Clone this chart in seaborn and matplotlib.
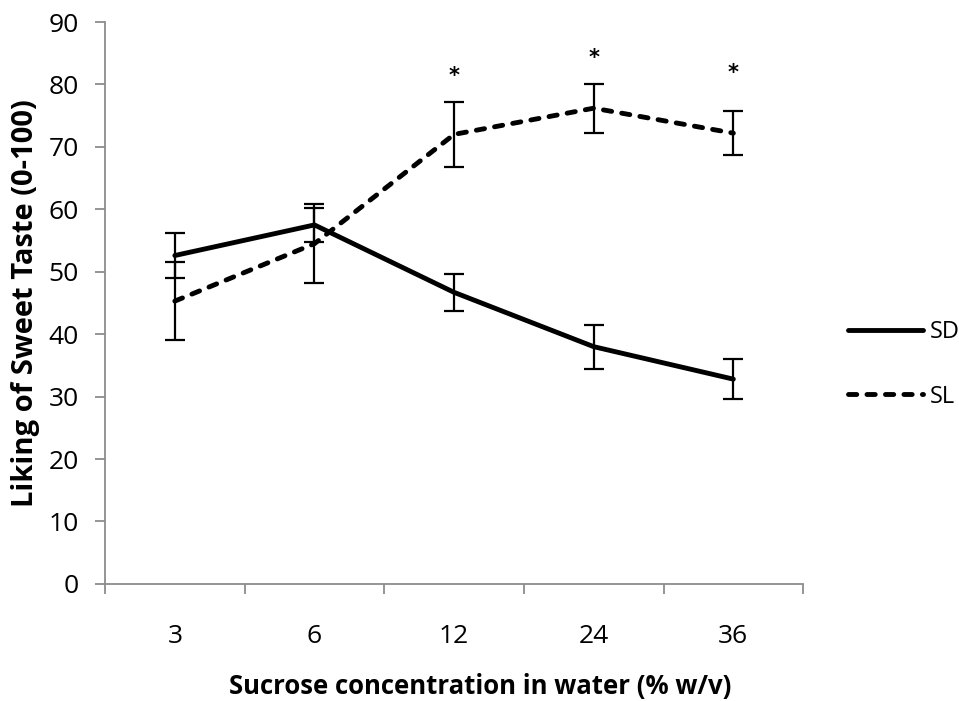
import matplotlib
matplotlib.use("Agg")
import matplotlib.pyplot as plt
import seaborn as sns
import pandas as pd
import numpy as np
from matplotlib.lines import Line2D

categories = ["3", "6", "12", "24", "36"]
sd_mean = [52.6, 57.5, 46.7, 38.0, 32.8]
sd_err = [3.6, 2.7, 3.0, 3.5, 3.2]
sl_mean = [45.3, 54.5, 72.0, 76.2, 72.2]
sl_err = [6.2, 6.3, 5.2, 3.9, 3.5]
star_y = [81.3, 84.3, 81.8]
star_idx = [2, 3, 4]

sns.set_style("white")
plt.rcParams["font.family"] = ["Open Sans", "DejaVu Sans"]
plt.rcParams["text.color"] = "black"
plt.rcParams["axes.labelcolor"] = "black"
plt.rcParams["xtick.labelcolor"] = "black"
plt.rcParams["ytick.labelcolor"] = "black"

pos = list(range(len(categories)))
df = pd.DataFrame({
    "pos": pos * 2,
    "value": sd_mean + sl_mean,
    "group": ["SD"] * len(pos) + ["SL"] * len(pos),
})

LW = 3.5
DASH = (1.7, 2.1)

fig = plt.figure(figsize=(9.59, 7.01), dpi=100)
ax = fig.add_axes([0.1095, 0.167, 0.728, 0.8016])

sns.lineplot(data=df, x="pos", y="value", hue="group", style="group",
             palette={"SD": "black", "SL": "black"},
             dashes={"SD": "", "SL": DASH}, linewidth=LW, ax=ax,
             legend=False)
for line in ax.lines:
    line.set_dash_capstyle("round")
    line.set_solid_capstyle("round")

ax.errorbar(pos, sd_mean, yerr=sd_err, fmt="none", ecolor="black",
            elinewidth=1.6, capsize=7, capthick=1.6)
ax.errorbar(pos, sl_mean, yerr=sl_err, fmt="none", ecolor="black",
            elinewidth=1.6, capsize=7, capthick=1.6)

for i, y in zip(star_idx, star_y):
    ax.text(i, y, "*", ha="center", va="center", fontsize=15,
            fontweight="bold", family=["DejaVu Sans"], color="black")

ax.set_xlim(-0.5, 4.5)
ax.set_ylim(0, 90)
ax.set_yticks(np.arange(0, 91, 10))
ax.set_xticks(pos)
ax.set_xticklabels(categories)
ax.set_xticks(np.arange(-0.5, 4.6, 1.0), minor=True)
ax.tick_params(axis="x", which="major", length=0, labelsize=19, pad=29)
ax.tick_params(axis="x", which="minor", length=7, width=1.3, color="#8c8c8c",
               direction="out", bottom=True)
ax.tick_params(axis="y", length=7, width=1.3, color="#8c8c8c", direction="out",
               labelsize=19, left=True, pad=12)
for s in ["top", "right"]:
    ax.spines[s].set_visible(False)
for s in ["left", "bottom"]:
    ax.spines[s].set_color("#8c8c8c")
    ax.spines[s].set_linewidth(1.3)

ax.set_xlabel("Sucrose concentration in water (% w/v)", fontsize=18.5,
              fontweight="bold", labelpad=17)
ax.xaxis.label.set_x(0.537)
ax.set_ylabel("Liking of Sweet Taste (0-100)", fontsize=21,
              fontweight="bold")
ax.yaxis.set_label_coords(-0.093, 0.5)

handles = [Line2D([], [], color="black", lw=LW, solid_capstyle="round"),
           Line2D([], [], color="black", lw=LW, dashes=DASH,
                  dash_capstyle="round")]
leg = fig.legend(handles, ["SD", "SL"], loc="center left",
                 bbox_to_anchor=(0.862, 0.48), frameon=False, fontsize=17,
                 handlelength=3.18, handletextpad=0.29, labelspacing=1.7)

fig.savefig("out.png", dpi=100)
